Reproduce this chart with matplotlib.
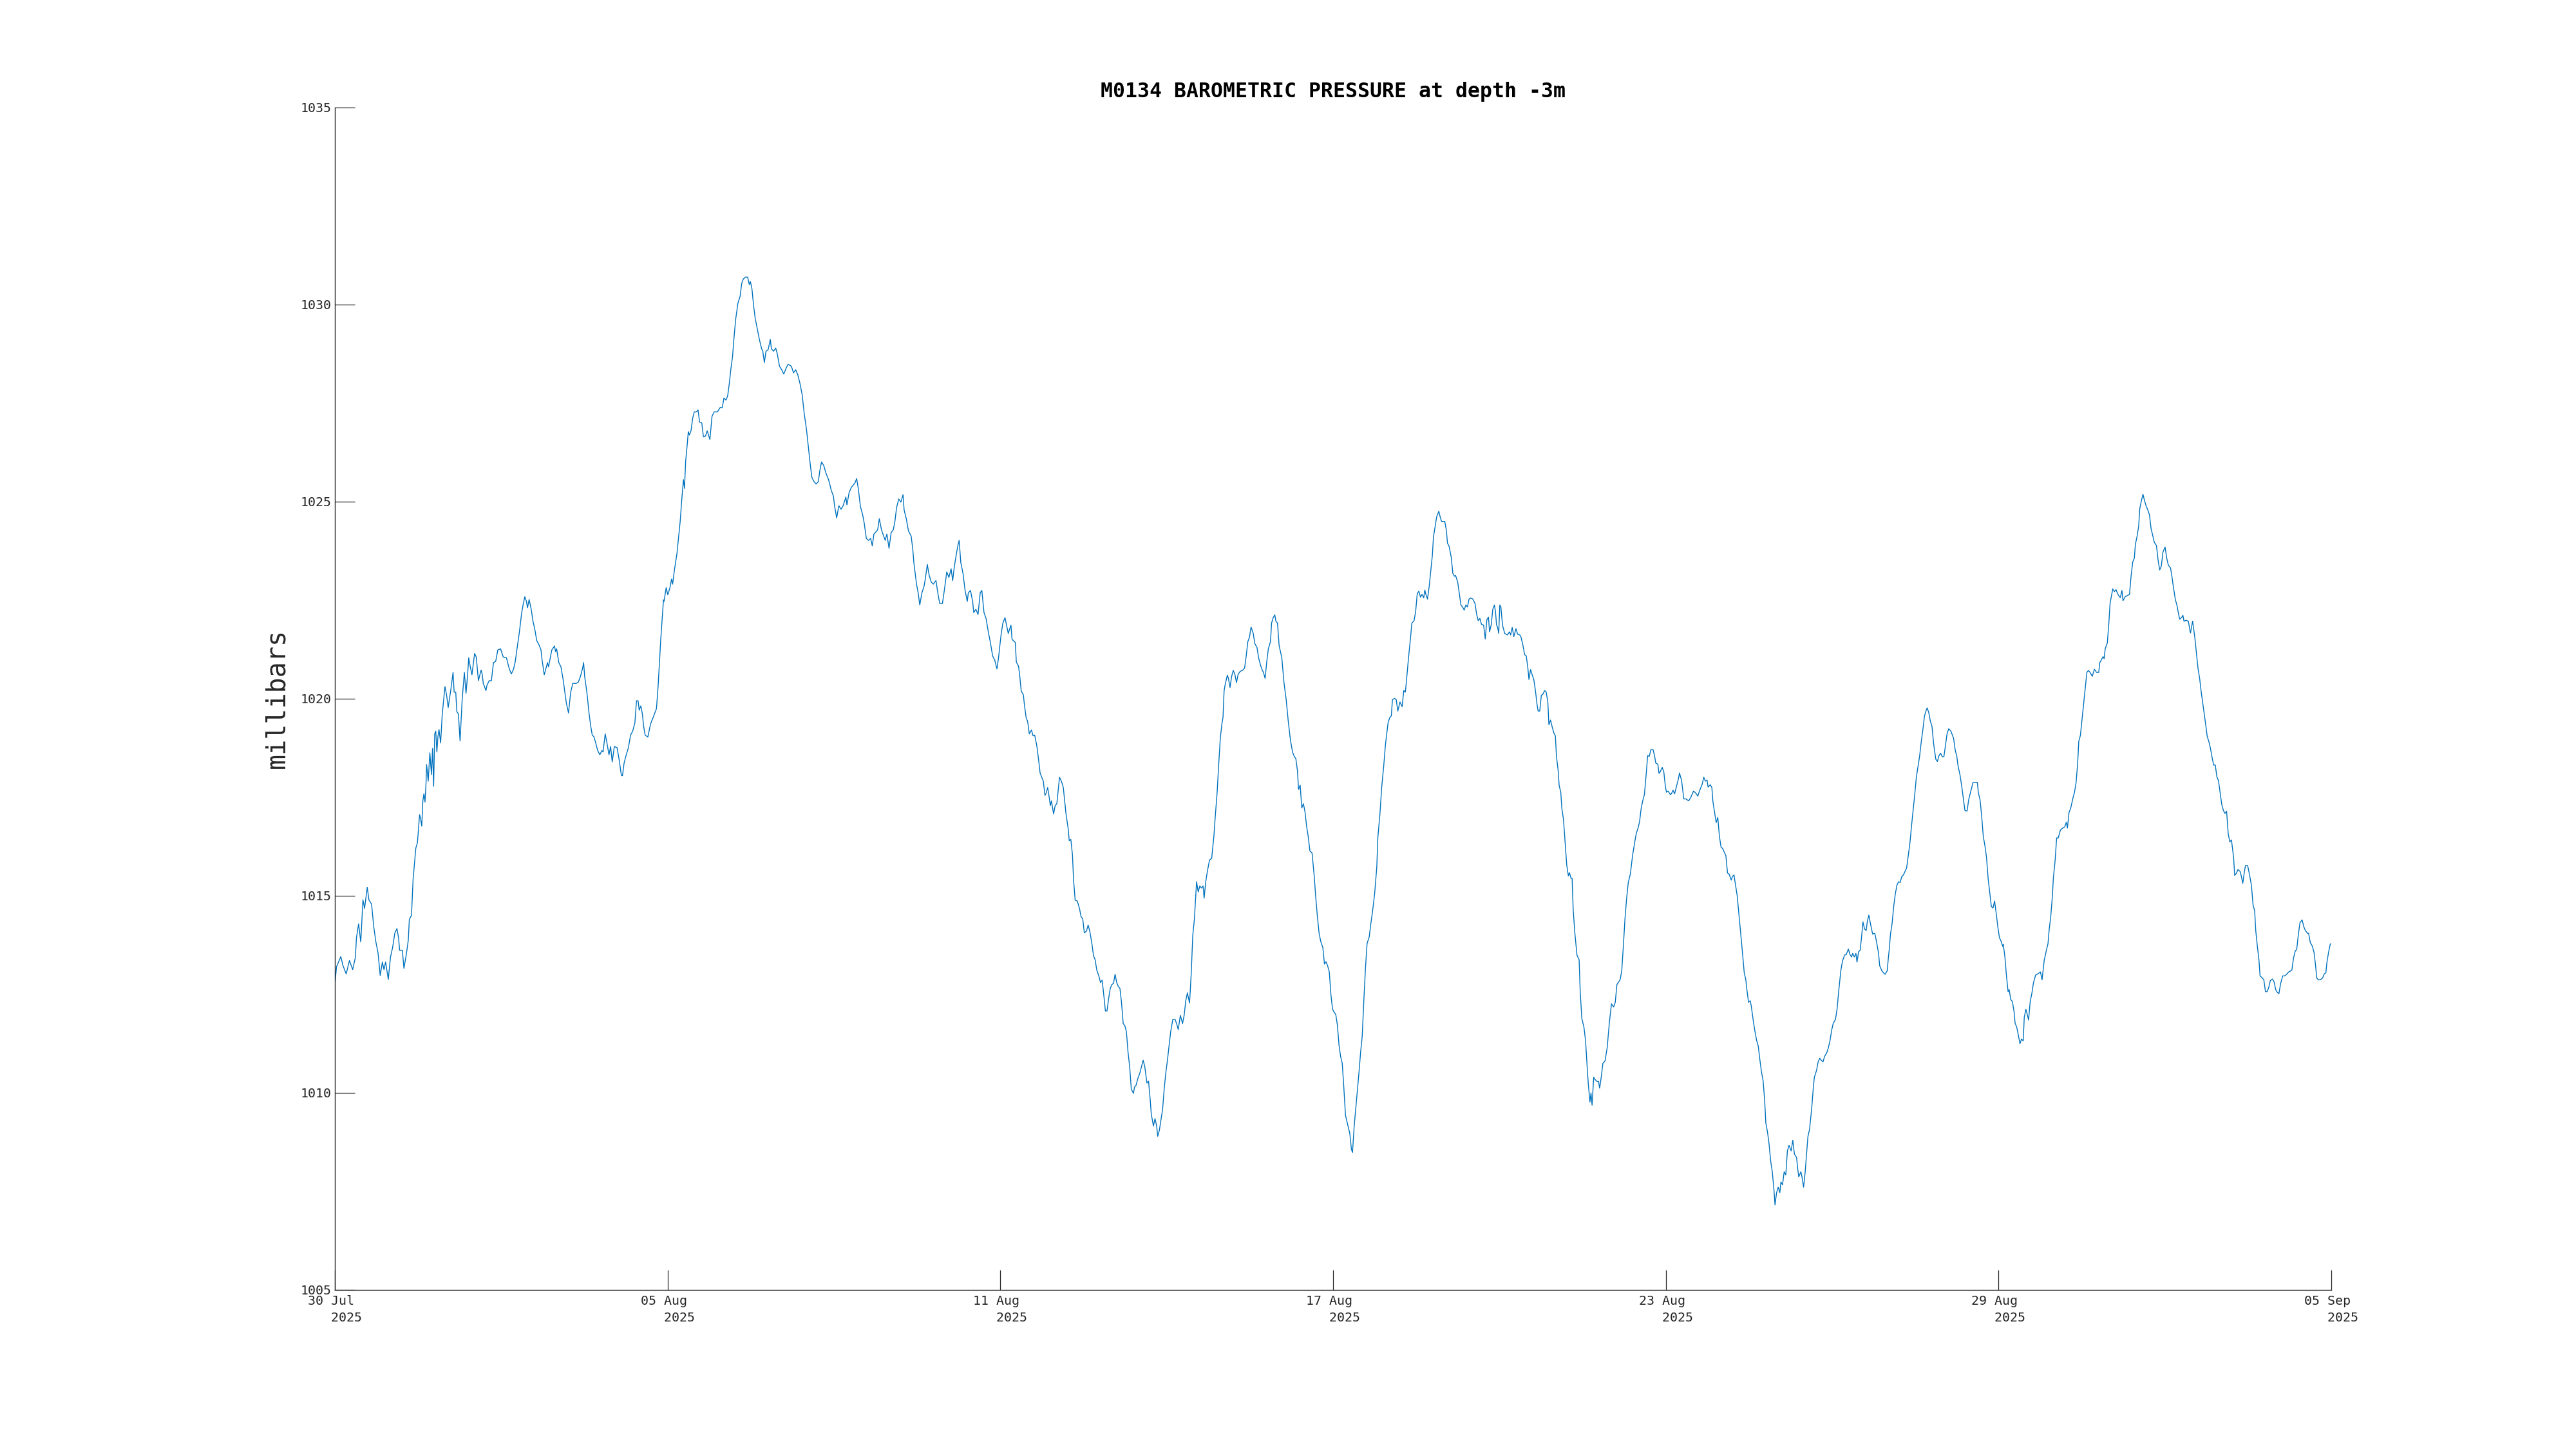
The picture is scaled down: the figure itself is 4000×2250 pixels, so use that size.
#!/usr/bin/env python3
"""
M0134 barometric pressure time series, MATLAB-style plot.
Readings are (days since 30 Jul 2025 00:00, millibars), read off the original figure.
"""

from datetime import datetime, timedelta

import matplotlib
matplotlib.use("Agg")
import matplotlib.pyplot as plt
import numpy as np

START = datetime(2025, 7, 30)
SPAN_DAYS = 37  # 30 Jul -> 05 Sep

# 30 Jul - 05 Aug
readings_jul30 = [
    (0.00, 1012.73), (0.03, 1013.19), (0.11, 1013.45), (0.15, 1013.22), (0.21, 1013.01),
    (0.27, 1013.35), (0.33, 1013.12), (0.38, 1013.43), (0.40, 1013.93), (0.44, 1014.28),
    (0.48, 1013.82), (0.52, 1014.89), (0.55, 1014.67), (0.60, 1015.21), (0.63, 1014.89),
    (0.68, 1014.78), (0.72, 1014.21), (0.76, 1013.82), (0.80, 1013.54), (0.84, 1012.97),
    (0.88, 1013.31), (0.91, 1013.12), (0.94, 1013.31), (0.99, 1012.87), (1.03, 1013.43),
    (1.07, 1013.68), (1.11, 1014.04), (1.15, 1014.16), (1.18, 1013.93), (1.20, 1013.61),
    (1.25, 1013.61), (1.28, 1013.15), (1.32, 1013.47), (1.36, 1013.86), (1.38, 1014.39),
    (1.42, 1014.50), (1.45, 1015.42), (1.50, 1016.20), (1.53, 1016.34), (1.57, 1017.05),
    (1.59, 1016.94), (1.61, 1016.76), (1.63, 1017.40), (1.65, 1017.58), (1.67, 1017.37),
    (1.69, 1017.86), (1.70, 1018.32), (1.73, 1017.90), (1.76, 1018.62), (1.79, 1018.07),
    (1.81, 1018.73), (1.83, 1017.77), (1.85, 1019.10), (1.87, 1019.17), (1.89, 1018.64),
    (1.91, 1019.03), (1.93, 1019.21), (1.96, 1018.87), (1.99, 1019.60), (2.04, 1020.30),
    (2.07, 1020.09), (2.10, 1019.77), (2.15, 1020.23), (2.19, 1020.66), (2.21, 1020.16),
    (2.24, 1020.16), (2.26, 1019.67), (2.29, 1019.60), (2.32, 1018.92), (2.36, 1019.99),
    (2.40, 1020.66), (2.43, 1020.13), (2.46, 1020.59), (2.48, 1021.03), (2.51, 1020.80),
    (2.54, 1020.60), (2.59, 1021.14), (2.62, 1021.05), (2.66, 1020.45), (2.71, 1020.72),
    (2.73, 1020.62), (2.75, 1020.38), (2.80, 1020.20), (2.82, 1020.34), (2.86, 1020.45),
    (2.90, 1020.45), (2.94, 1020.91), (2.98, 1020.94), (3.02, 1021.23), (3.07, 1021.26),
    (3.12, 1021.05), (3.18, 1021.03), (3.23, 1020.76), (3.27, 1020.62), (3.31, 1020.74),
    (3.34, 1020.91), (3.38, 1021.30), (3.42, 1021.69), (3.46, 1022.15), (3.49, 1022.39),
    (3.52, 1022.58), (3.55, 1022.46), (3.57, 1022.30), (3.60, 1022.51), (3.64, 1022.25),
    (3.67, 1021.97), (3.71, 1021.72), (3.74, 1021.47), (3.78, 1021.37), (3.82, 1021.23),
    (3.84, 1020.98), (3.88, 1020.60), (3.92, 1020.80), (3.94, 1020.91), (3.96, 1020.80),
    (4.02, 1021.23), (4.07, 1021.33), (4.09, 1021.19), (4.11, 1021.26), (4.15, 1020.91),
    (4.19, 1020.80), (4.23, 1020.48), (4.29, 1019.88), (4.33, 1019.63), (4.37, 1020.16),
    (4.41, 1020.38), (4.47, 1020.38), (4.51, 1020.41), (4.55, 1020.55), (4.59, 1020.76),
    (4.61, 1020.91), (4.63, 1020.55), (4.67, 1020.16), (4.71, 1019.63), (4.74, 1019.31),
    (4.77, 1019.07), (4.80, 1019.03), (4.83, 1018.89), (4.87, 1018.68), (4.91, 1018.57),
    (4.95, 1018.68), (4.97, 1018.64), (5.01, 1019.10), (5.04, 1018.89), (5.08, 1018.57),
    (5.11, 1018.78), (5.14, 1018.39), (5.18, 1018.78), (5.23, 1018.75), (5.27, 1018.43),
    (5.31, 1018.04), (5.33, 1018.04), (5.36, 1018.36), (5.40, 1018.57), (5.44, 1018.75),
    (5.48, 1019.07), (5.52, 1019.17), (5.56, 1019.38), (5.59, 1019.94), (5.62, 1019.94),
    (5.64, 1019.70), (5.67, 1019.81), (5.70, 1019.60), (5.72, 1019.31), (5.75, 1019.07),
    (5.80, 1019.02), (5.85, 1019.35), (5.91, 1019.56), (5.96, 1019.74), (5.99, 1020.30),
    (6.04, 1021.51), (6.09, 1022.50),
]

# 05 Aug - 11 Aug
readings_aug05 = [
    (6.10, 1022.46), (6.14, 1022.81), (6.17, 1022.63), (6.21, 1022.81), (6.24, 1023.03),
    (6.26, 1022.90), (6.29, 1023.23), (6.34, 1023.68), (6.40, 1024.50), (6.43, 1025.06),
    (6.46, 1025.55), (6.48, 1025.33), (6.50, 1026.00), (6.53, 1026.44), (6.55, 1026.77),
    (6.57, 1026.68), (6.60, 1026.79), (6.63, 1027.10), (6.66, 1027.27), (6.70, 1027.27),
    (6.73, 1027.32), (6.76, 1027.01), (6.80, 1026.99), (6.83, 1026.64), (6.87, 1026.66),
    (6.90, 1026.79), (6.95, 1026.57), (6.99, 1027.16), (7.03, 1027.27), (7.09, 1027.27),
    (7.14, 1027.38), (7.18, 1027.38), (7.21, 1027.62), (7.25, 1027.57), (7.28, 1027.68),
    (7.31, 1027.99), (7.34, 1028.37), (7.37, 1028.67), (7.40, 1029.20), (7.43, 1029.64),
    (7.47, 1030.03), (7.51, 1030.20), (7.54, 1030.53), (7.57, 1030.64), (7.61, 1030.69),
    (7.65, 1030.69), (7.68, 1030.50), (7.70, 1030.58), (7.73, 1030.39), (7.76, 1029.97),
    (7.79, 1029.64), (7.83, 1029.37), (7.87, 1029.09), (7.91, 1028.87), (7.93, 1028.81),
    (7.96, 1028.52), (7.99, 1028.81), (8.03, 1028.85), (8.07, 1029.11), (8.09, 1028.87),
    (8.13, 1028.81), (8.17, 1028.89), (8.20, 1028.74), (8.24, 1028.43), (8.28, 1028.34),
    (8.32, 1028.23), (8.36, 1028.37), (8.40, 1028.48), (8.46, 1028.43), (8.50, 1028.26),
    (8.54, 1028.34), (8.58, 1028.21), (8.62, 1027.99), (8.66, 1027.71), (8.70, 1027.21),
    (8.74, 1026.83), (8.78, 1026.33), (8.81, 1025.94), (8.84, 1025.61), (8.88, 1025.50),
    (8.92, 1025.44), (8.96, 1025.50), (8.99, 1025.80), (9.02, 1026.00), (9.06, 1025.91),
    (9.10, 1025.72), (9.15, 1025.55), (9.20, 1025.28), (9.24, 1025.13), (9.26, 1024.89),
    (9.30, 1024.58), (9.34, 1024.89), (9.38, 1024.80), (9.42, 1024.89), (9.47, 1025.11),
    (9.49, 1024.91), (9.53, 1025.22), (9.57, 1025.35), (9.61, 1025.42), (9.64, 1025.47),
    (9.67, 1025.58), (9.70, 1025.33), (9.74, 1024.87), (9.78, 1024.67), (9.81, 1024.45),
    (9.85, 1024.06), (9.89, 1024.01), (9.93, 1024.06), (9.96, 1023.87), (9.99, 1024.17),
    (10.03, 1024.23), (10.06, 1024.28), (10.09, 1024.56), (10.13, 1024.28), (10.17, 1024.12),
    (10.20, 1024.01), (10.23, 1024.17), (10.27, 1023.81), (10.31, 1024.21), (10.35, 1024.28),
    (10.38, 1024.50), (10.41, 1024.84), (10.45, 1025.06), (10.49, 1024.98), (10.53, 1025.17),
    (10.55, 1024.78), (10.59, 1024.56), (10.63, 1024.25), (10.68, 1024.12), (10.71, 1023.79),
    (10.73, 1023.45), (10.75, 1023.23), (10.78, 1022.90), (10.81, 1022.68), (10.84, 1022.37),
    (10.88, 1022.68), (10.92, 1022.85), (10.94, 1023.01), (10.98, 1023.40), (11.01, 1023.15),
    (11.05, 1022.96), (11.09, 1022.90), (11.14, 1022.99), (11.18, 1022.63), (11.21, 1022.41),
    (11.26, 1022.41), (11.30, 1022.79), (11.34, 1023.21), (11.38, 1023.07), (11.42, 1023.29),
    (11.45, 1022.99), (11.48, 1023.34), (11.52, 1023.68), (11.55, 1023.90), (11.57, 1024.01),
    (11.60, 1023.45), (11.64, 1023.18), (11.68, 1022.74), (11.72, 1022.46), (11.74, 1022.68),
    (11.78, 1022.74), (11.82, 1022.46), (11.84, 1022.18), (11.88, 1022.26), (11.92, 1022.13),
    (11.96, 1022.68), (11.99, 1022.74), (12.03, 1022.18), (12.07, 1022.02), (12.11, 1021.69),
    (12.15, 1021.41), (12.19, 1021.08), (12.23, 1020.97), (12.27, 1020.75),
]

# 11 Aug - 17 Aug
readings_aug11 = [
    (12.30, 1021.03), (12.32, 1021.29), (12.35, 1021.65), (12.38, 1021.91), (12.42, 1022.05),
    (12.44, 1021.91), (12.48, 1021.65), (12.53, 1021.86), (12.55, 1021.50), (12.61, 1021.42),
    (12.63, 1020.92), (12.67, 1020.82), (12.69, 1020.61), (12.72, 1020.19), (12.76, 1020.09),
    (12.78, 1019.83), (12.81, 1019.52), (12.84, 1019.41), (12.87, 1019.10), (12.91, 1019.20),
    (12.94, 1019.05), (12.97, 1019.07), (13.01, 1018.79), (13.04, 1018.47), (13.07, 1018.11),
    (13.10, 1018.00), (13.13, 1017.90), (13.16, 1017.54), (13.18, 1017.59), (13.21, 1017.74),
    (13.24, 1017.48), (13.26, 1017.28), (13.28, 1017.40), (13.32, 1017.07), (13.35, 1017.28),
    (13.38, 1017.33), (13.41, 1017.74), (13.43, 1018.00), (13.47, 1017.88), (13.50, 1017.74),
    (13.53, 1017.33), (13.55, 1017.07), (13.59, 1016.70), (13.61, 1016.39), (13.64, 1016.42),
    (13.67, 1016.03), (13.69, 1015.40), (13.72, 1014.88), (13.76, 1014.86), (13.80, 1014.67),
    (13.83, 1014.46), (13.86, 1014.41), (13.89, 1014.05), (13.93, 1014.10), (13.96, 1014.25),
    (13.99, 1014.10), (14.03, 1013.78), (14.06, 1013.47), (14.09, 1013.37), (14.12, 1013.11),
    (14.16, 1012.95), (14.19, 1012.79), (14.22, 1012.85), (14.25, 1012.48), (14.28, 1012.07),
    (14.31, 1012.07), (14.34, 1012.38), (14.37, 1012.64), (14.40, 1012.74), (14.43, 1012.77),
    (14.46, 1013.00), (14.49, 1012.79), (14.52, 1012.69), (14.55, 1012.64), (14.58, 1012.27),
    (14.61, 1011.75), (14.64, 1011.70), (14.67, 1011.54), (14.70, 1011.02), (14.73, 1010.66),
    (14.76, 1010.09), (14.80, 1009.98), (14.82, 1010.14), (14.85, 1010.19), (14.88, 1010.35),
    (14.92, 1010.50), (14.96, 1010.71), (14.98, 1010.82), (15.01, 1010.66), (15.05, 1010.24),
    (15.08, 1010.29), (15.11, 1009.83), (15.13, 1009.46), (15.17, 1009.15), (15.20, 1009.34),
    (15.23, 1009.15), (15.25, 1008.89), (15.28, 1009.04), (15.31, 1009.30), (15.34, 1009.57),
    (15.37, 1010.09), (15.40, 1010.50), (15.43, 1010.82), (15.46, 1011.18), (15.49, 1011.54),
    (15.53, 1011.86), (15.57, 1011.86), (15.60, 1011.75), (15.63, 1011.60), (15.67, 1011.96),
    (15.71, 1011.75), (15.74, 1011.96), (15.77, 1012.33), (15.80, 1012.53), (15.84, 1012.27),
    (15.87, 1013.00), (15.90, 1013.99), (15.93, 1014.41), (15.97, 1015.35), (16.00, 1015.09),
    (16.03, 1015.24), (16.06, 1015.19), (16.09, 1015.24), (16.11, 1014.93), (16.14, 1015.35),
    (16.17, 1015.61), (16.21, 1015.90), (16.25, 1015.94), (16.29, 1016.49), (16.32, 1017.07),
    (16.35, 1017.59), (16.38, 1018.32), (16.41, 1018.99), (16.44, 1019.36), (16.46, 1019.52),
    (16.48, 1020.19), (16.50, 1020.35), (16.54, 1020.59), (16.56, 1020.51), (16.59, 1020.28),
    (16.62, 1020.56), (16.65, 1020.71), (16.68, 1020.61), (16.71, 1020.40), (16.74, 1020.61),
    (16.78, 1020.69), (16.82, 1020.71), (16.86, 1020.77), (16.89, 1021.08), (16.92, 1021.44),
    (16.95, 1021.55), (16.98, 1021.81), (17.02, 1021.65), (17.05, 1021.39), (17.09, 1021.29),
    (17.12, 1021.03), (17.16, 1020.82), (17.19, 1020.71), (17.21, 1020.66), (17.24, 1020.51),
    (17.27, 1020.92), (17.30, 1021.26), (17.34, 1021.44), (17.36, 1021.91), (17.39, 1022.05),
    (17.42, 1022.12), (17.44, 1021.96), (17.47, 1021.91), (17.50, 1021.34), (17.55, 1021.03),
    (17.59, 1020.40), (17.63, 1019.98), (17.67, 1019.41), (17.71, 1018.94), (17.75, 1018.63),
    (17.78, 1018.53), (17.81, 1018.47), (17.84, 1018.16), (17.86, 1017.69), (17.89, 1017.80),
    (17.92, 1017.22), (17.95, 1017.33), (17.98, 1017.12), (18.01, 1016.75), (18.04, 1016.49),
    (18.07, 1016.13), (18.11, 1016.08), (18.15, 1015.50), (18.18, 1014.93), (18.21, 1014.46),
    (18.24, 1014.05), (18.27, 1013.84), (18.31, 1013.68), (18.34, 1013.26), (18.37, 1013.32),
    (18.40, 1013.21), (18.43, 1013.06), (18.46, 1012.48), (18.49, 1012.12),
]

# 17 Aug - 23 Aug
readings_aug17 = [
    (18.51, 1012.06), (18.55, 1011.98), (18.58, 1011.71), (18.61, 1011.20), (18.64, 1010.91),
    (18.67, 1010.74), (18.70, 1010.11), (18.73, 1009.42), (18.76, 1009.25), (18.79, 1009.08),
    (18.81, 1008.96), (18.84, 1008.56), (18.86, 1008.48), (18.89, 1009.13), (18.92, 1009.59),
    (18.95, 1010.05), (18.98, 1010.51), (19.01, 1011.02), (19.04, 1011.43), (19.07, 1012.34),
    (19.10, 1013.15), (19.13, 1013.78), (19.17, 1013.95), (19.20, 1014.29), (19.23, 1014.58),
    (19.27, 1015.04), (19.31, 1015.72), (19.33, 1016.47), (19.37, 1017.10), (19.40, 1017.73),
    (19.44, 1018.31), (19.47, 1018.82), (19.50, 1019.16), (19.52, 1019.39), (19.55, 1019.51),
    (19.58, 1019.56), (19.60, 1019.97), (19.64, 1020.00), (19.67, 1019.97), (19.70, 1019.68),
    (19.74, 1019.91), (19.78, 1019.79), (19.81, 1020.20), (19.84, 1020.16), (19.87, 1020.60),
    (19.90, 1021.06), (19.93, 1021.46), (19.96, 1021.91), (20.00, 1021.97), (20.03, 1022.20),
    (20.06, 1022.66), (20.09, 1022.72), (20.12, 1022.57), (20.15, 1022.64), (20.18, 1022.55),
    (20.20, 1022.75), (20.22, 1022.64), (20.25, 1022.52), (20.28, 1022.83), (20.31, 1023.23),
    (20.34, 1023.63), (20.36, 1024.09), (20.38, 1024.26), (20.42, 1024.61), (20.46, 1024.75),
    (20.48, 1024.63), (20.51, 1024.49), (20.54, 1024.49), (20.57, 1024.49), (20.60, 1024.26),
    (20.62, 1023.94), (20.65, 1023.86), (20.69, 1023.58), (20.72, 1023.17), (20.75, 1023.10),
    (20.77, 1023.12), (20.81, 1022.95), (20.84, 1022.66), (20.87, 1022.37), (20.90, 1022.32),
    (20.93, 1022.24), (20.96, 1022.37), (20.99, 1022.32), (21.02, 1022.52), (21.05, 1022.55),
    (21.09, 1022.52), (21.13, 1022.41), (21.16, 1022.14), (21.19, 1021.97), (21.22, 1022.03),
    (21.25, 1021.88), (21.29, 1021.86), (21.32, 1021.51), (21.35, 1022.00), (21.38, 1022.06),
    (21.40, 1021.69), (21.43, 1021.86), (21.46, 1022.26), (21.49, 1022.37), (21.51, 1022.20),
    (21.53, 1021.86), (21.55, 1021.80), (21.57, 1021.65), (21.59, 1022.37), (21.61, 1022.32),
    (21.64, 1021.86), (21.68, 1021.65), (21.73, 1021.61), (21.77, 1021.69), (21.79, 1021.61),
    (21.82, 1021.80), (21.85, 1021.57), (21.89, 1021.77), (21.92, 1021.63), (21.96, 1021.61),
    (21.98, 1021.57), (22.02, 1021.34), (22.05, 1021.11), (22.08, 1021.08), (22.11, 1020.77),
    (22.13, 1020.48), (22.16, 1020.73), (22.19, 1020.60), (22.22, 1020.48), (22.25, 1020.20),
    (22.28, 1019.85), (22.30, 1019.68), (22.33, 1019.68), (22.36, 1020.08), (22.39, 1020.11),
    (22.42, 1020.20), (22.45, 1020.16), (22.48, 1019.91), (22.50, 1019.33), (22.53, 1019.45),
    (22.56, 1019.28), (22.59, 1019.13), (22.62, 1019.05), (22.64, 1018.53), (22.67, 1018.19),
    (22.69, 1017.79), (22.72, 1017.62), (22.74, 1017.21), (22.77, 1016.93), (22.80, 1016.35),
    (22.83, 1015.78), (22.86, 1015.50), (22.88, 1015.58), (22.91, 1015.44), (22.93, 1015.44),
    (22.95, 1014.64), (22.98, 1014.06), (23.02, 1013.49), (23.06, 1013.37), (23.08, 1012.57),
    (23.11, 1011.88), (23.15, 1011.65), (23.18, 1011.31), (23.21, 1010.62), (23.23, 1010.22),
    (23.26, 1009.76), (23.28, 1009.99), (23.30, 1009.68), (23.33, 1010.39), (23.35, 1010.34),
    (23.39, 1010.28), (23.42, 1010.28), (23.44, 1010.11), (23.47, 1010.39), (23.50, 1010.74),
    (23.54, 1010.80), (23.58, 1011.14), (23.62, 1011.77), (23.66, 1012.25), (23.70, 1012.17),
    (23.73, 1012.29), (23.76, 1012.74), (23.79, 1012.80), (23.82, 1012.86), (23.85, 1013.09),
    (23.88, 1013.72), (23.91, 1014.41), (23.94, 1014.92), (23.97, 1015.32), (24.01, 1015.55),
    (24.05, 1016.01), (24.09, 1016.35), (24.12, 1016.58), (24.15, 1016.70), (24.18, 1016.87),
    (24.21, 1017.21), (24.24, 1017.41), (24.27, 1017.56), (24.31, 1018.19), (24.33, 1018.55),
    (24.36, 1018.53), (24.39, 1018.70), (24.43, 1018.70), (24.46, 1018.53), (24.48, 1018.36),
    (24.52, 1018.33), (24.54, 1018.10), (24.56, 1018.13), (24.60, 1018.25), (24.63, 1018.13),
    (24.66, 1017.75), (24.68, 1017.62),
]

# 23 Aug - 29 Aug
readings_aug23 = [
    (24.71, 1017.65), (24.75, 1017.56), (24.77, 1017.58), (24.80, 1017.67), (24.83, 1017.58),
    (24.86, 1017.74), (24.90, 1017.96), (24.92, 1018.11), (24.96, 1017.91), (25.00, 1017.45),
    (25.04, 1017.45), (25.09, 1017.40), (25.13, 1017.49), (25.18, 1017.65), (25.22, 1017.60),
    (25.26, 1017.52), (25.29, 1017.65), (25.32, 1017.75), (25.34, 1017.82), (25.37, 1018.00),
    (25.40, 1017.90), (25.43, 1017.93), (25.45, 1017.75), (25.49, 1017.81), (25.52, 1017.74),
    (25.54, 1017.38), (25.57, 1017.12), (25.60, 1016.85), (25.63, 1016.98), (25.66, 1016.50),
    (25.69, 1016.23), (25.72, 1016.19), (25.75, 1016.10), (25.78, 1016.01), (25.81, 1015.57),
    (25.84, 1015.54), (25.88, 1015.39), (25.90, 1015.48), (25.93, 1015.52), (25.96, 1015.26),
    (25.99, 1014.99), (26.02, 1014.55), (26.05, 1014.11), (26.08, 1013.66), (26.12, 1013.04),
    (26.15, 1012.86), (26.17, 1012.60), (26.20, 1012.29), (26.23, 1012.33), (26.25, 1012.20),
    (26.29, 1011.80), (26.32, 1011.54), (26.35, 1011.32), (26.38, 1011.18), (26.41, 1010.83),
    (26.44, 1010.52), (26.47, 1010.30), (26.50, 1009.77), (26.52, 1009.23), (26.55, 1009.01),
    (26.58, 1008.70), (26.61, 1008.26), (26.64, 1007.99), (26.67, 1007.55), (26.69, 1007.15),
    (26.72, 1007.46), (26.75, 1007.60), (26.78, 1007.46), (26.80, 1007.73), (26.83, 1007.66),
    (26.86, 1007.99), (26.89, 1007.91), (26.92, 1008.52), (26.95, 1008.66), (26.99, 1008.52),
    (27.02, 1008.79), (27.05, 1008.44), (27.09, 1008.35), (27.11, 1008.08), (27.13, 1007.86),
    (27.17, 1007.99), (27.19, 1007.86), (27.22, 1007.60), (27.25, 1007.99), (27.27, 1008.35),
    (27.30, 1008.88), (27.33, 1009.06), (27.37, 1009.59), (27.40, 1010.12), (27.42, 1010.39),
    (27.46, 1010.56), (27.49, 1010.78), (27.52, 1010.87), (27.54, 1010.83), (27.58, 1010.78),
    (27.61, 1010.92), (27.65, 1011.01), (27.68, 1011.14), (27.71, 1011.32), (27.74, 1011.58),
    (27.77, 1011.76), (27.81, 1011.85), (27.84, 1012.11), (27.87, 1012.56), (27.91, 1013.09),
    (27.94, 1013.33), (27.98, 1013.49), (28.01, 1013.50), (28.05, 1013.64), (28.08, 1013.50),
    (28.11, 1013.44), (28.13, 1013.53), (28.16, 1013.44), (28.19, 1013.53), (28.21, 1013.31),
    (28.24, 1013.57), (28.27, 1013.62), (28.30, 1014.02), (28.32, 1014.33), (28.35, 1014.15),
    (28.38, 1014.11), (28.40, 1014.33), (28.43, 1014.50), (28.46, 1014.28), (28.50, 1014.02),
    (28.54, 1014.04), (28.57, 1013.84), (28.61, 1013.53), (28.63, 1013.22), (28.67, 1013.09),
    (28.70, 1013.04), (28.73, 1013.00), (28.77, 1013.09), (28.79, 1013.40), (28.81, 1013.66),
    (28.83, 1014.02), (28.86, 1014.28), (28.89, 1014.72), (28.92, 1015.04), (28.95, 1015.26),
    (28.98, 1015.35), (29.01, 1015.33), (29.04, 1015.48), (29.07, 1015.52), (29.10, 1015.61),
    (29.13, 1015.70), (29.16, 1016.01), (29.19, 1016.32), (29.22, 1016.76), (29.25, 1017.16),
    (29.28, 1017.56), (29.31, 1018.00), (29.34, 1018.27), (29.37, 1018.53), (29.40, 1018.89),
    (29.43, 1019.20), (29.46, 1019.55), (29.49, 1019.69), (29.51, 1019.76), (29.54, 1019.64),
    (29.57, 1019.42), (29.60, 1019.29), (29.63, 1018.85), (29.67, 1018.46), (29.70, 1018.40),
    (29.73, 1018.55), (29.76, 1018.61), (29.79, 1018.52), (29.82, 1018.52), (29.84, 1018.71),
    (29.88, 1019.11), (29.91, 1019.23), (29.95, 1019.17), (30.00, 1018.99), (30.03, 1018.69),
    (30.06, 1018.53), (30.08, 1018.31), (30.12, 1018.05), (30.15, 1017.78), (30.18, 1017.47),
    (30.21, 1017.16), (30.25, 1017.14), (30.28, 1017.43), (30.32, 1017.65), (30.36, 1017.87),
    (30.40, 1017.87), (30.44, 1017.87), (30.46, 1017.60), (30.49, 1017.43), (30.52, 1017.03),
    (30.55, 1016.50), (30.58, 1016.27), (30.61, 1015.97), (30.64, 1015.43), (30.67, 1015.08),
    (30.70, 1014.72), (30.73, 1014.68), (30.76, 1014.86), (30.79, 1014.55), (30.82, 1014.20),
    (30.85, 1013.93), (30.88, 1013.84), (30.91, 1013.71),
]

# 29 Aug - 05 Sep
readings_aug29 = [
    (30.92, 1013.76), (30.95, 1013.46), (30.98, 1012.96), (31.01, 1012.56), (31.03, 1012.61),
    (31.06, 1012.36), (31.09, 1012.31), (31.12, 1012.06), (31.14, 1011.76), (31.17, 1011.66),
    (31.20, 1011.46), (31.23, 1011.24), (31.26, 1011.36), (31.29, 1011.31), (31.31, 1011.91),
    (31.34, 1012.11), (31.36, 1012.01), (31.39, 1011.84), (31.42, 1012.31), (31.45, 1012.51),
    (31.48, 1012.78), (31.52, 1012.98), (31.56, 1013.01), (31.61, 1013.06), (31.64, 1012.86),
    (31.68, 1013.36), (31.72, 1013.61), (31.75, 1013.78), (31.77, 1014.11), (31.80, 1014.46),
    (31.83, 1014.96), (31.85, 1015.46), (31.88, 1015.86), (31.91, 1016.46), (31.94, 1016.46),
    (31.98, 1016.66), (32.02, 1016.71), (32.06, 1016.74), (32.09, 1016.86), (32.11, 1016.71),
    (32.14, 1017.11), (32.17, 1017.21), (32.21, 1017.46), (32.24, 1017.61), (32.27, 1017.86),
    (32.30, 1018.36), (32.32, 1018.91), (32.35, 1019.06), (32.38, 1019.46), (32.41, 1019.86),
    (32.44, 1020.26), (32.47, 1020.66), (32.50, 1020.71), (32.53, 1020.66), (32.57, 1020.56),
    (32.61, 1020.74), (32.65, 1020.66), (32.69, 1020.66), (32.71, 1020.91), (32.74, 1020.98),
    (32.77, 1021.06), (32.79, 1021.01), (32.81, 1021.26), (32.85, 1021.41), (32.88, 1021.96),
    (32.90, 1022.41), (32.92, 1022.56), (32.95, 1022.78), (32.98, 1022.71), (33.01, 1022.76),
    (33.04, 1022.66), (33.06, 1022.61), (33.09, 1022.56), (33.12, 1022.74), (33.14, 1022.48),
    (33.18, 1022.58), (33.22, 1022.61), (33.26, 1022.64), (33.29, 1023.11), (33.32, 1023.46),
    (33.35, 1023.56), (33.37, 1023.91), (33.40, 1024.11), (33.43, 1024.36), (33.45, 1024.81),
    (33.48, 1025.01), (33.51, 1025.18), (33.54, 1025.01), (33.57, 1024.88), (33.60, 1024.78),
    (33.63, 1024.66), (33.66, 1024.31), (33.69, 1024.14), (33.72, 1023.96), (33.76, 1023.88),
    (33.79, 1023.51), (33.82, 1023.26), (33.85, 1023.36), (33.88, 1023.71), (33.92, 1023.84),
    (33.95, 1023.56), (33.98, 1023.38), (34.02, 1023.31), (34.04, 1023.16), (34.07, 1022.86),
    (34.11, 1022.51), (34.14, 1022.36), (34.16, 1022.21), (34.19, 1022.01), (34.23, 1022.06),
    (34.25, 1022.11), (34.27, 1021.96), (34.31, 1021.98), (34.35, 1021.96), (34.39, 1021.66),
    (34.41, 1021.81), (34.43, 1021.96), (34.47, 1021.56), (34.50, 1021.16), (34.53, 1020.76),
    (34.56, 1020.51), (34.59, 1020.16), (34.62, 1019.86), (34.65, 1019.56), (34.68, 1019.26),
    (34.70, 1019.04), (34.73, 1018.91), (34.76, 1018.74), (34.79, 1018.51), (34.82, 1018.31),
    (34.85, 1018.31), (34.88, 1018.01), (34.91, 1017.91), (34.94, 1017.61), (34.97, 1017.31),
    (35.00, 1017.16), (35.03, 1017.08), (35.06, 1017.14), (35.09, 1016.56), (35.12, 1016.36),
    (35.15, 1016.41), (35.19, 1015.96), (35.21, 1015.51), (35.24, 1015.56), (35.27, 1015.66),
    (35.31, 1015.61), (35.33, 1015.51), (35.36, 1015.31), (35.39, 1015.61), (35.41, 1015.76),
    (35.45, 1015.76), (35.48, 1015.56), (35.52, 1015.26), (35.55, 1014.76), (35.58, 1014.61),
    (35.60, 1014.11), (35.63, 1013.71), (35.66, 1013.36), (35.68, 1012.96), (35.72, 1012.91),
    (35.75, 1012.86), (35.78, 1012.56), (35.81, 1012.56), (35.84, 1012.66), (35.87, 1012.84),
    (35.91, 1012.88), (35.94, 1012.81), (35.97, 1012.61), (36.00, 1012.54), (36.03, 1012.51),
    (36.06, 1012.76), (36.10, 1012.96), (36.14, 1012.96), (36.18, 1013.01), (36.21, 1013.06),
    (36.24, 1013.08), (36.27, 1013.11), (36.30, 1013.41), (36.33, 1013.58), (36.36, 1013.64),
    (36.39, 1014.01), (36.42, 1014.31), (36.46, 1014.38), (36.49, 1014.21), (36.52, 1014.11),
    (36.56, 1014.04), (36.58, 1014.04), (36.61, 1013.81), (36.65, 1013.71), (36.68, 1013.56),
    (36.71, 1013.21), (36.73, 1012.91), (36.76, 1012.86), (36.80, 1012.86), (36.84, 1012.91),
    (36.87, 1013.01), (36.90, 1013.04), (36.92, 1013.31), (36.95, 1013.56), (36.98, 1013.76),
    (37.00, 1013.78),
]

# date ticks are spread evenly over the span (MATLAB style), labelled by day only
tick_labels = ["30 Jul", "05 Aug", "11 Aug", "17 Aug", "23 Aug", "29 Aug", "05 Sep"]
tick_year = "2025"
yticks_mbar = [1005, 1010, 1015, 1020, 1025, 1030, 1035]

TITLE = "M0134 BAROMETRIC PRESSURE at depth -3m"
YLABEL = "millibars"

AX_COLOR = "#262626"
LINE_COLOR = "#0072BD"
MONO = "DejaVu Sans Mono"


def build_series():
    """Stitch the weekly readings together into datetime / value arrays."""
    readings = (readings_jul30 + readings_aug05 + readings_aug11
                + readings_aug17 + readings_aug23 + readings_aug29)
    days = np.array([r[0] for r in readings])
    mbar = np.array([r[1] for r in readings])
    times = [START + timedelta(days=float(d)) for d in days]
    return times, mbar


def main():
    plt.rcParams.update({
        'font.family': MONO,
        'axes.edgecolor': AX_COLOR,
        'xtick.color': AX_COLOR,
        'ytick.color': AX_COLOR,
    })

    times, mbar = build_series()

    fig = plt.figure(figsize=(20, 11.25), dpi=200, facecolor='white')
    ax = fig.add_axes([0.13, 0.11, 0.775, 0.816])

    ax.plot(times, mbar, color=LINE_COLOR, linewidth=0.5)

    # MATLAB look: box off, inward ticks, no grid
    for side in ('top', 'right'):
        ax.spines[side].set_visible(False)
    for side in ('left', 'bottom'):
        ax.spines[side].set_linewidth(0.5)

    n = len(tick_labels)
    xt = [START + timedelta(days=SPAN_DAYS * i / (n - 1)) for i in range(n)]
    ax.set_xlim(xt[0], xt[-1])
    ax.set_xticks(xt)
    ax.set_xticklabels([f"{lab}\n   {tick_year}" for lab in tick_labels],
                       multialignment='left', linespacing=1.45)
    ax.set_ylim(yticks_mbar[0], yticks_mbar[-1])
    ax.set_yticks(yticks_mbar)

    ax.tick_params(axis='both', direction='in', length=11.2, width=0.45,
                   labelsize=7.2)
    ax.tick_params(axis='x', pad=3.0)
    ax.tick_params(axis='y', pad=1.8)

    ax.set_title(TITLE, fontsize=11.35, fontweight='bold', color='black', pad=5.5)
    ax.set_ylabel(YLABEL, fontsize=14.4, color=AX_COLOR, labelpad=6)

    fig.savefig("out.png", dpi=200, facecolor='white')
    plt.close(fig)


if __name__ == "__main__":
    main()
